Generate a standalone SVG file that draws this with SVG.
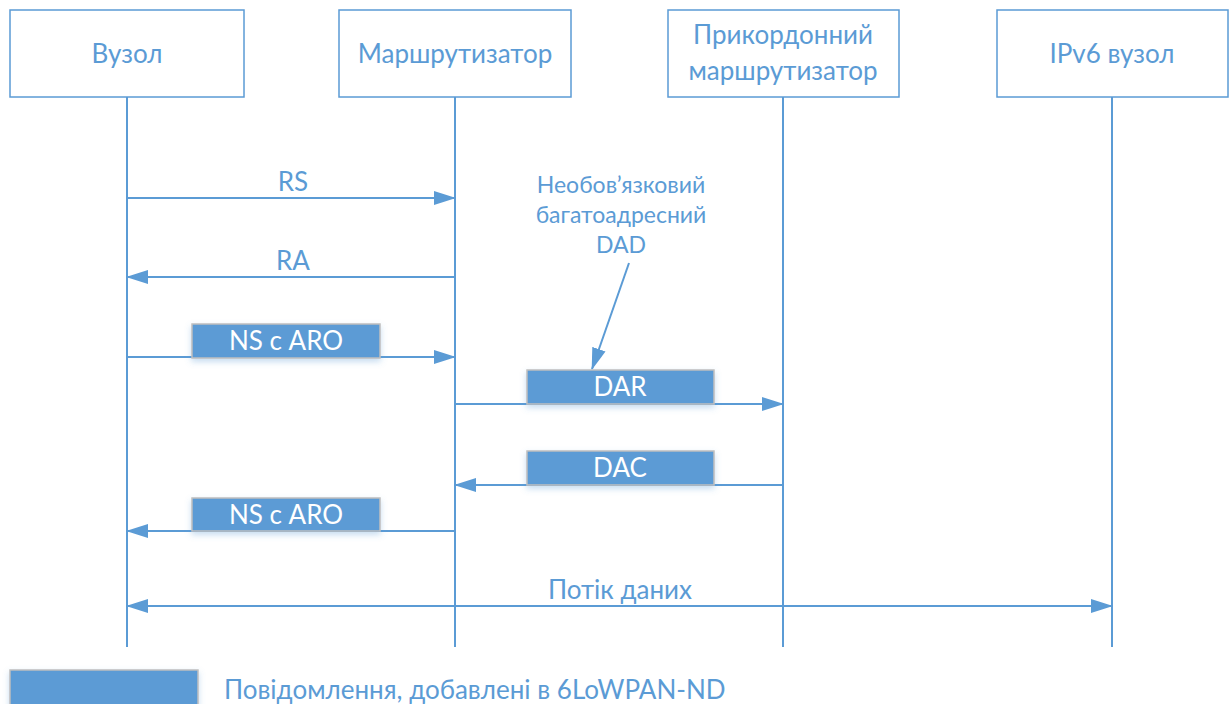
<svg xmlns="http://www.w3.org/2000/svg" width="1232" height="704" viewBox="0 0 1232 704">
<style>
.hdr{fill:#fff;stroke:#5B9BD5;stroke-width:1.5}
.t{font-family:Lato,"Open Sans",sans-serif;font-size:26px;fill:#5B9BD5;text-anchor:middle}
.tn{font-size:23px}
.tw{font-family:Lato,"Open Sans",sans-serif;font-size:26px;fill:#fff;text-anchor:middle}
.ln{stroke:#5B9BD5;stroke-width:2;fill:none}
.msg{fill:#5B9BD5;stroke:#BFBFBF;stroke-width:1.5;filter:url(#sh)}
</style>
<defs>
<marker id="ah" markerWidth="22" markerHeight="14" refX="21" refY="7" orient="auto-start-reverse" markerUnits="userSpaceOnUse">
<path d="M0,0 L22,7 L0,14 z" fill="#5B9BD5"/>
</marker>
<filter id="sh" x="-10%" y="-30%" width="120%" height="170%">
<feDropShadow dx="0" dy="3" stdDeviation="3" flood-color="#5B9BD5" flood-opacity="0.35"/>
</filter>
</defs>
<rect width="1232" height="704" fill="#fff"/>
<g id="lifelines">
<line class="ln" x1="127" y1="97" x2="127" y2="647"/>
<line class="ln" x1="455" y1="97" x2="455" y2="647"/>
<line class="ln" x1="783" y1="97" x2="783" y2="647"/>
<line class="ln" x1="1112" y1="97" x2="1112" y2="647"/>
</g>
<g id="node-vuzol"><rect class="hdr" x="10" y="10" width="234" height="87"/><text class="t" x="127" y="63">Вузол</text></g>
<g id="node-router"><rect class="hdr" x="339" y="10" width="232" height="87"/><text class="t" x="455" y="63">Маршрутизатор</text></g>
<g id="node-border"><rect class="hdr" x="668" y="10" width="231" height="87"/><text class="t" x="783" y="44">Прикордонний</text><text class="t" x="783" y="80">маршрутизатор</text></g>
<g id="node-ipv6"><rect class="hdr" x="997" y="10" width="231" height="87"/><text class="t" x="1112" y="63">IPv6 вузол</text></g>
<g id="connectors">
<line class="ln" x1="127" y1="198" x2="455" y2="198" marker-end="url(#ah)"/>
<line class="ln" x1="455" y1="277" x2="127" y2="277" marker-end="url(#ah)"/>
<line class="ln" x1="127" y1="357" x2="455" y2="357" marker-end="url(#ah)"/>
<line class="ln" x1="455" y1="404" x2="783" y2="404" marker-end="url(#ah)"/>
<line class="ln" x1="783" y1="485" x2="455" y2="485" marker-end="url(#ah)"/>
<line class="ln" x1="455" y1="531" x2="127" y2="531" marker-end="url(#ah)"/>
<line class="ln" x1="127" y1="606" x2="1112" y2="606" marker-start="url(#ah)" marker-end="url(#ah)"/>
<line class="ln" x1="629" y1="263" x2="592" y2="369" marker-end="url(#ah)"/>
</g>
<g id="labels">
<text class="t" x="293" y="191">RS</text>
<text class="t" x="293" y="270">RA</text>
<text class="t" x="620" y="599">Потік даних</text>
<g id="note">
<text class="t tn" x="621" y="193">Необов’язковий</text>
<text class="t tn" x="621" y="223">багатоадресний</text>
<text class="t tn" x="621" y="253">DAD</text>
</g>
</g>
<g id="msg-ns1"><rect class="msg" x="192" y="324" width="188" height="34"/><text class="tw" x="286" y="350">NS с ARO</text></g>
<g id="msg-dar"><rect class="msg" x="527" y="370" width="187" height="34"/><text class="tw" x="620" y="396">DAR</text></g>
<g id="msg-dac"><rect class="msg" x="527" y="451" width="187" height="34"/><text class="tw" x="620" y="477">DAC</text></g>
<g id="msg-ns2"><rect class="msg" x="192" y="498" width="188" height="33"/><text class="tw" x="286" y="524">NS с ARO</text></g>
<g id="legend"><rect class="msg" x="10" y="670" width="188" height="40"/><text class="t" x="224" y="699" style="text-anchor:start">Повідомлення, добавлені в 6LoWPAN-ND</text></g>
</svg>
